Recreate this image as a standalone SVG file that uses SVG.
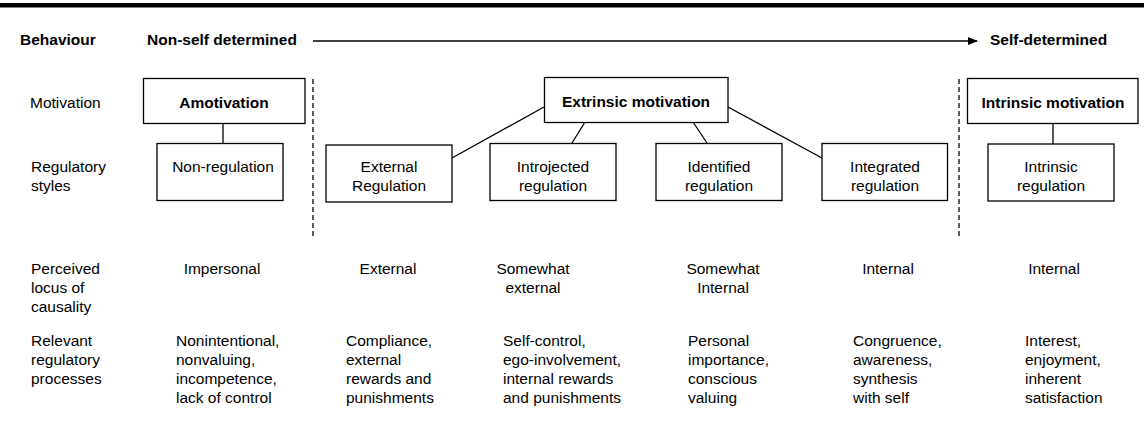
<svg xmlns="http://www.w3.org/2000/svg" width="1144" height="430" viewBox="0 0 1144 430">
<style>
text{font-family:"Liberation Sans",Arial,sans-serif;font-size:15.5px;fill:#000}
.b{font-weight:bold}
.c{text-anchor:middle}
.box{fill:#fff;stroke:#000;stroke-width:1.3}
.ln{stroke:#000;stroke-width:1.3;fill:none}
.dash{stroke:#000;stroke-width:1.3;stroke-dasharray:5 3;fill:none}
</style>
<defs>
<marker id="ah" markerWidth="10" markerHeight="8" refX="9" refY="4" orient="auto" markerUnits="userSpaceOnUse">
<path d="M0,0 L10,4 L0,8 Z" fill="#000"/>
</marker>
</defs>
<rect x="0" y="3" width="1144" height="4.5" fill="#000"/>
<g id="labels">
<text class="b" x="20" y="45">Behaviour</text>
<text class="b" x="147" y="45">Non-self determined</text>
<text class="b" x="990" y="45">Self-determined</text>
<text x="30" y="108">Motivation</text>
<text x="31" y="172">Regulatory</text>
<text x="31" y="191">styles</text>
<text x="31" y="274">Perceived</text>
<text x="31" y="293">locus of</text>
<text x="31" y="312">causality</text>
<text x="31" y="346">Relevant</text>
<text x="31" y="365">regulatory</text>
<text x="31" y="384">processes</text>
</g>
<g id="connectors">
<line class="ln" x1="313" y1="41" x2="977" y2="41" marker-end="url(#ah)"/>
<line class="dash" x1="313" y1="79" x2="313" y2="236"/>
<line class="dash" x1="959" y1="79" x2="959" y2="236"/>
<line class="ln" x1="223" y1="123" x2="223" y2="143"/>
<line class="ln" x1="1053" y1="123" x2="1053" y2="144"/>
<line class="ln" x1="544" y1="107" x2="452" y2="158"/>
<line class="ln" x1="585" y1="122" x2="572" y2="143"/>
<line class="ln" x1="693" y1="122" x2="707" y2="143"/>
<line class="ln" x1="728" y1="107" x2="822" y2="158"/>
</g>
<g id="amotivation">
<rect class="box" x="143.5" y="78.5" width="161.5" height="45"/>
<text class="b c" x="224" y="108">Amotivation</text>
</g>
<g id="extrinsic">
<rect class="box" x="544.5" y="77.5" width="183.5" height="45"/>
<text class="b c" x="636" y="107">Extrinsic motivation</text>
</g>
<g id="intrinsic">
<rect class="box" x="967.5" y="78.5" width="170.5" height="45"/>
<text class="b c" x="1053" y="108">Intrinsic motivation</text>
</g>
<g id="nonreg">
<rect class="box" x="157" y="143.5" width="126" height="57"/>
<text class="c" x="223" y="172">Non-regulation</text>
</g>
<g id="extreg">
<rect class="box" x="326" y="145" width="126" height="57"/>
<text class="c" x="389" y="172">External</text>
<text class="c" x="389" y="191">Regulation</text>
</g>
<g id="introreg">
<rect class="box" x="490" y="143.5" width="126" height="57"/>
<text class="c" x="553" y="172">Introjected</text>
<text class="c" x="553" y="191">regulation</text>
</g>
<g id="identreg">
<rect class="box" x="656" y="143.5" width="126" height="57"/>
<text class="c" x="719" y="172">Identified</text>
<text class="c" x="719" y="191">regulation</text>
</g>
<g id="integreg">
<rect class="box" x="822" y="143.5" width="125.5" height="57"/>
<text class="c" x="885" y="172">Integrated</text>
<text class="c" x="885" y="191">regulation</text>
</g>
<g id="intrreg">
<rect class="box" x="988" y="144" width="126" height="57"/>
<text class="c" x="1051" y="172">Intrinsic</text>
<text class="c" x="1051" y="191">regulation</text>
</g>
<g id="locus">
<text class="c" x="222" y="274">Impersonal</text>
<text class="c" x="388" y="274">External</text>
<text class="c" x="533" y="274">Somewhat</text>
<text class="c" x="533" y="293">external</text>
<text class="c" x="723" y="274">Somewhat</text>
<text class="c" x="723" y="293">Internal</text>
<text class="c" x="888" y="274">Internal</text>
<text class="c" x="1054" y="274">Internal</text>
</g>
<g id="processes">
<text x="176" y="346">Nonintentional,</text>
<text x="176" y="365">nonvaluing,</text>
<text x="176" y="384">incompetence,</text>
<text x="176" y="403">lack of control</text>
<text x="346" y="346">Compliance,</text>
<text x="346" y="365">external</text>
<text x="346" y="384">rewards and</text>
<text x="346" y="403">punishments</text>
<text x="503" y="346">Self-control,</text>
<text x="503" y="365">ego-involvement,</text>
<text x="503" y="384">internal rewards</text>
<text x="503" y="403">and punishments</text>
<text x="688" y="346">Personal</text>
<text x="688" y="365">importance,</text>
<text x="688" y="384">conscious</text>
<text x="688" y="403">valuing</text>
<text x="853" y="346">Congruence,</text>
<text x="853" y="365">awareness,</text>
<text x="853" y="384">synthesis</text>
<text x="853" y="403">with self</text>
<text x="1025" y="346">Interest,</text>
<text x="1025" y="365">enjoyment,</text>
<text x="1025" y="384">inherent</text>
<text x="1025" y="403">satisfaction</text>
</g>
</svg>
